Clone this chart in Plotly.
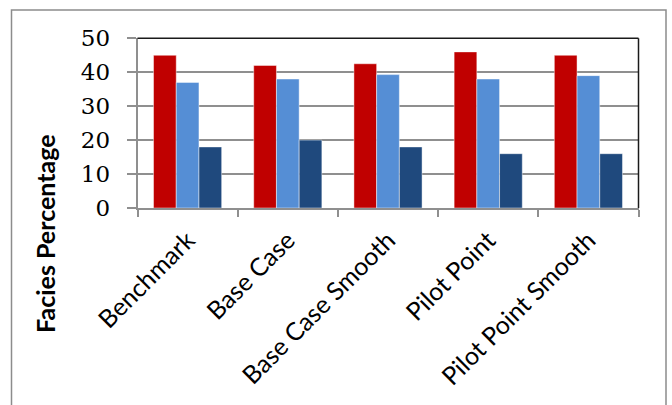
import plotly.graph_objects as go

# Facies proportions per model run
cases = ["Benchmark", "Base Case", "Base Case Smooth", "Pilot Point", "Pilot Point Smooth"]
facies_1 = [45, 42, 42.5, 46, 45]
facies_2 = [37, 38, 39.3, 38, 39]
facies_3 = [18, 20, 18, 16, 16]
y_ticks = [0, 10, 20, 30, 40, 50]

series = [
    (facies_1, "#C00000", "Facies 1"),
    (facies_2, "#558ED5", "Facies 2"),
    (facies_3, "#1F497D", "Facies 3"),
]

W, H = 672, 405
plot_l, plot_r, plot_t, plot_b = 137.5, 638.5, 38.3, 208.0

fig = go.Figure()
for vals, color, name in series:
    fig.add_trace(go.Bar(
        x=cases, y=vals, name=name,
        marker=dict(color=color, line=dict(color="rgba(255,255,255,0.45)", width=1)),
    ))

grid_gray = "#8f8f8f"

fig.update_layout(
    width=W, height=H,
    margin=dict(l=0, r=0, t=0, b=0, autoexpand=False),
    paper_bgcolor="white", plot_bgcolor="white",
    showlegend=False,
    barmode="group", bargap=0.32, bargroupgap=0,
    xaxis=dict(
        domain=[plot_l / W, plot_r / W],
        type="category",
        showline=True, linecolor=grid_gray, linewidth=1.5,
        ticks="outside", tickson="boundaries", ticklen=7, tickcolor=grid_gray, tickwidth=1.5,
        tickangle=-45,
        tickfont=dict(family="Lato", size=25, color="#000000"),
        ticklabelstandoff=6,
        showgrid=False, automargin=False,
    ),
    yaxis=dict(
        domain=[1 - plot_b / H, 1 - plot_t / H],
        range=[0, 50], tickvals=y_ticks,
        showline=True, linecolor=grid_gray, linewidth=1.5,
        ticks="outside", ticklen=9, tickcolor=grid_gray, tickwidth=1.5,
        tickfont=dict(family="DejaVu Serif", size=23, color="#000000"),
        ticklabelstandoff=12,
        showgrid=True, gridcolor=grid_gray, gridwidth=1.5,
        zeroline=False, automargin=False,
    ),
)

# dark frame on the top and right edges of the plot area
fig.add_shape(type="line", xref="x domain", yref="y domain", x0=0, x1=1, y0=1, y1=1,
              line=dict(color="#1a1a1a", width=1.5))
fig.add_shape(type="line", xref="x domain", yref="y domain", x0=1, x1=1, y0=0, y1=1,
              line=dict(color="#1a1a1a", width=1.5))

# outer chart border (runs off the bottom edge)
fig.add_shape(type="rect", xref="paper", yref="paper",
              x0=11.5 / W, x1=666 / W, y0=-0.1, y1=1 - 10 / H,
              line=dict(color="#8c8c8c", width=1.5), fillcolor="rgba(0,0,0,0)", layer="below")

# vertical axis title
fig.add_annotation(
    text="<b>Facies Percentage</b>", textangle=-90,
    xref="paper", yref="paper", x=45 / W, y=1 - 234 / H,
    xanchor="center", yanchor="middle", showarrow=False,
    font=dict(family="Lato", size=25, color="#000000"),
)

fig.write_html("out.html")
